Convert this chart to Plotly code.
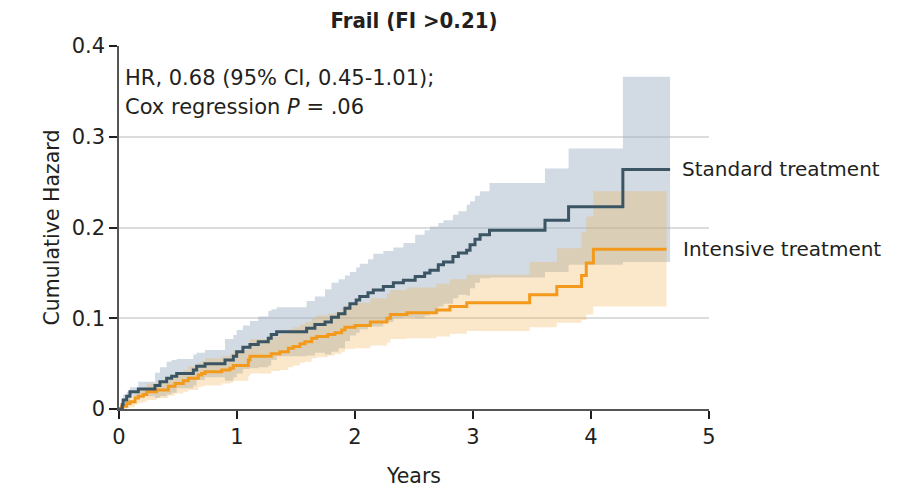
import plotly.graph_objects as go

# ---- data ----
std_t = [0, 0.028, 0.035, 0.065, 0.093, 0.164, 0.305, 0.347, 0.404, 0.446, 0.489, 0.63, 0.658, 0.729, 0.898,
         0.969, 0.997, 1.05, 1.11, 1.18, 1.265, 1.29, 1.336, 1.59, 1.66, 1.746, 1.80, 1.86, 1.915, 1.957,
         2.01, 2.04, 2.11, 2.155, 2.24, 2.325, 2.41, 2.51, 2.59, 2.635, 2.706, 2.75, 2.83, 2.876, 2.946,
         2.975, 3.017, 3.06, 3.14, 3.61, 3.81, 4.27, 4.67]
std_v = [0, 0.005, 0.010, 0.014, 0.019, 0.022, 0.026, 0.030, 0.034, 0.036, 0.039, 0.043, 0.047, 0.050, 0.054,
         0.058, 0.063, 0.068, 0.071, 0.074, 0.078, 0.082, 0.085, 0.089, 0.093, 0.096, 0.101, 0.105, 0.111, 0.116,
         0.120, 0.124, 0.128, 0.131, 0.135, 0.139, 0.142, 0.146, 0.150, 0.153, 0.159, 0.162, 0.168, 0.172, 0.175,
         0.181, 0.187, 0.192, 0.197, 0.208, 0.223, 0.264, 0.264]
std_hi = [0, 0.008, 0.016, 0.019, 0.024, 0.030, 0.040, 0.046, 0.052, 0.054, 0.055, 0.060, 0.062, 0.065, 0.077,
          0.0815, 0.087, 0.092, 0.097, 0.102, 0.108, 0.110, 0.112, 0.119, 0.124, 0.132, 0.139, 0.143, 0.147, 0.151,
          0.156, 0.160, 0.165, 0.171, 0.174, 0.178, 0.183, 0.192, 0.197, 0.201, 0.205, 0.208, 0.214, 0.218, 0.225,
          0.229, 0.235, 0.240, 0.249, 0.265, 0.287, 0.366, 0.366]
std_lo = [0, 0.002, 0.004, 0.009, 0.014, 0.014, 0.012, 0.014, 0.016, 0.018, 0.023, 0.026, 0.032, 0.035, 0.031,
          0.035, 0.039, 0.044, 0.045, 0.046, 0.048, 0.054, 0.058, 0.059, 0.062, 0.060, 0.063, 0.067, 0.075, 0.081,
          0.084, 0.088, 0.091, 0.091, 0.096, 0.100, 0.101, 0.100, 0.103, 0.105, 0.113, 0.116, 0.122, 0.126, 0.125,
          0.133, 0.139, 0.144, 0.145, 0.151, 0.159, 0.162, 0.162]

int_t = [0, 0.023, 0.065, 0.093, 0.136, 0.164, 0.206, 0.235, 0.319, 0.418, 0.475, 0.545, 0.587, 0.672, 0.70,
         0.729, 0.87, 0.94, 0.969, 1.096, 1.11, 1.29, 1.364, 1.435, 1.477, 1.534, 1.576, 1.633, 1.675, 1.77,
         1.83, 1.887, 1.915, 2.0, 2.13, 2.27, 2.30, 2.44, 2.69, 2.805, 2.947, 3.48, 3.71, 3.92, 3.96, 4.02, 4.64]
int_v = [0, 0.003, 0.006, 0.008, 0.012, 0.014, 0.016, 0.019, 0.021, 0.025, 0.028, 0.031, 0.034, 0.0375, 0.039,
         0.041, 0.043, 0.045, 0.048, 0.054, 0.058, 0.061, 0.063, 0.067, 0.069, 0.072, 0.074, 0.078, 0.080, 0.082,
         0.084, 0.087, 0.090, 0.092, 0.096, 0.100, 0.104, 0.106, 0.109, 0.113, 0.117, 0.126, 0.135, 0.147, 0.161,
         0.176, 0.176]
int_hi = [0, 0.006, 0.011, 0.014, 0.019, 0.021, 0.024, 0.028, 0.030, 0.035, 0.039, 0.043, 0.047, 0.051, 0.053,
          0.056, 0.058, 0.061, 0.065, 0.072, 0.077, 0.080, 0.083, 0.088, 0.090, 0.093, 0.096, 0.100, 0.103, 0.105,
          0.107, 0.111, 0.114, 0.117, 0.122, 0.127, 0.131, 0.134, 0.138, 0.143, 0.148, 0.162, 0.177, 0.195, 0.212,
          0.240, 0.240]
int_lo = [0, 0.000, 0.001, 0.002, 0.005, 0.007, 0.008, 0.010, 0.012, 0.015, 0.017, 0.019, 0.021, 0.024, 0.025,
          0.026, 0.028, 0.029, 0.031, 0.036, 0.039, 0.042, 0.043, 0.046, 0.048, 0.051, 0.052, 0.056, 0.057, 0.059,
          0.061, 0.063, 0.066, 0.067, 0.070, 0.073, 0.077, 0.078, 0.080, 0.083, 0.086, 0.090, 0.095, 0.098, 0.104,
          0.113, 0.113]

x_ticks = [0, 1, 2, 3, 4, 5]
y_ticks = [0, 0.1, 0.2, 0.3, 0.4]
y_tick_labels = ["0", "0.1", "0.2", "0.3", "0.4"]

STD_LINE = "#3b5565"
INT_LINE = "#f39a1c"
STD_BAND = "rgba(155,176,194,0.45)"
INT_BAND = "rgba(243,176,80,0.30)"
FONT = "DejaVu Sans"
FONT_C = "DejaVu Sans Condensed, DejaVu Sans"
TXT = "#231f20"

# page body has an 8px default margin; the figure is sized so the plot lands where the reference has it
OFF = 8
W, H = 910 - OFF, 493 - OFF

fig = go.Figure()

# bands
fig.add_trace(go.Scatter(x=std_t, y=std_lo, mode="lines", line=dict(width=0, shape="hv"),
                         hoverinfo="skip", showlegend=False))
fig.add_trace(go.Scatter(x=std_t, y=std_hi, mode="lines", line=dict(width=0, shape="hv"),
                         fill="tonexty", fillcolor=STD_BAND, hoverinfo="skip", showlegend=False))
fig.add_trace(go.Scatter(x=int_t, y=int_lo, mode="lines", line=dict(width=0, shape="hv"),
                         hoverinfo="skip", showlegend=False))
fig.add_trace(go.Scatter(x=int_t, y=int_hi, mode="lines", line=dict(width=0, shape="hv"),
                         fill="tonexty", fillcolor=INT_BAND, hoverinfo="skip", showlegend=False))

# lines
fig.add_trace(go.Scatter(x=int_t, y=int_v, mode="lines", line=dict(color=INT_LINE, width=3, shape="hv"),
                         name="Intensive treatment", showlegend=False))
fig.add_trace(go.Scatter(x=std_t, y=std_v, mode="lines", line=dict(color=STD_LINE, width=3, shape="hv"),
                         name="Standard treatment", showlegend=False))

fig.add_annotation(x=std_t[-1], y=std_v[-1], xref="x", yref="y", text="Standard treatment",
                   showarrow=False, xanchor="left", yanchor="middle", xshift=10,
                   font=dict(size=20, color=TXT, family=FONT))
fig.add_annotation(x=int_t[-1], y=int_v[-1], xref="x", yref="y", text="Intensive treatment",
                   showarrow=False, xanchor="left", yanchor="middle", xshift=14,
                   font=dict(size=20, color=TXT, family=FONT))
fig.add_annotation(x=0, y=0.365, xref="x", yref="y",
                   text="HR, 0.68 (95% CI, 0.45-1.01);",
                   showarrow=False, xanchor="left", yanchor="middle", align="left", xshift=4,
                   font=dict(size=21, color=TXT, family=FONT))
fig.add_annotation(x=0, y=0.333, xref="x", yref="y",
                   text="Cox regression <i>P</i> = .06",
                   showarrow=False, xanchor="left", yanchor="middle", align="left", xshift=4,
                   font=dict(size=21, color=TXT, family=FONT))

fig.update_layout(
    width=W, height=H,
    margin=dict(l=119 - OFF, r=201, t=46 - OFF, b=84, autoexpand=False),
    paper_bgcolor="white", plot_bgcolor="white",
    title=dict(text="<b>Frail (FI >0.21)</b>", x=0.5, xref="paper", xanchor="center",
               y=1 - (20 - OFF) / H, yref="container", yanchor="middle",
               font=dict(size=22, color=TXT, family=FONT_C)),
    font=dict(family=FONT, color=TXT, size=20),
    showlegend=False,
)
fig.update_xaxes(range=[0, 5], tickvals=x_ticks, ticks="outside", ticklen=8, tickwidth=1.5,
                 tickcolor="#231f20", showline=True, linecolor="#555", linewidth=1.5,
                 showgrid=False, zeroline=False, automargin=False,
                 title=dict(text="Years", standoff=21, font=dict(size=20.5, family=FONT)),
                 tickfont=dict(size=21, family=FONT))
fig.update_yaxes(range=[0, 0.4], tickvals=y_ticks, ticktext=y_tick_labels, ticks="outside", ticklen=8,
                 tickwidth=1.5, tickcolor="#231f20", showline=True, linecolor="#555", linewidth=1.5,
                 showgrid=True, gridcolor="#dcdcdc", gridwidth=1.5, zeroline=False, automargin=False,
                 title=dict(text="Cumulative Hazard", standoff=6, font=dict(size=20.5, family=FONT)),
                 tickfont=dict(size=21, family=FONT))

fig.write_html("out.html")
